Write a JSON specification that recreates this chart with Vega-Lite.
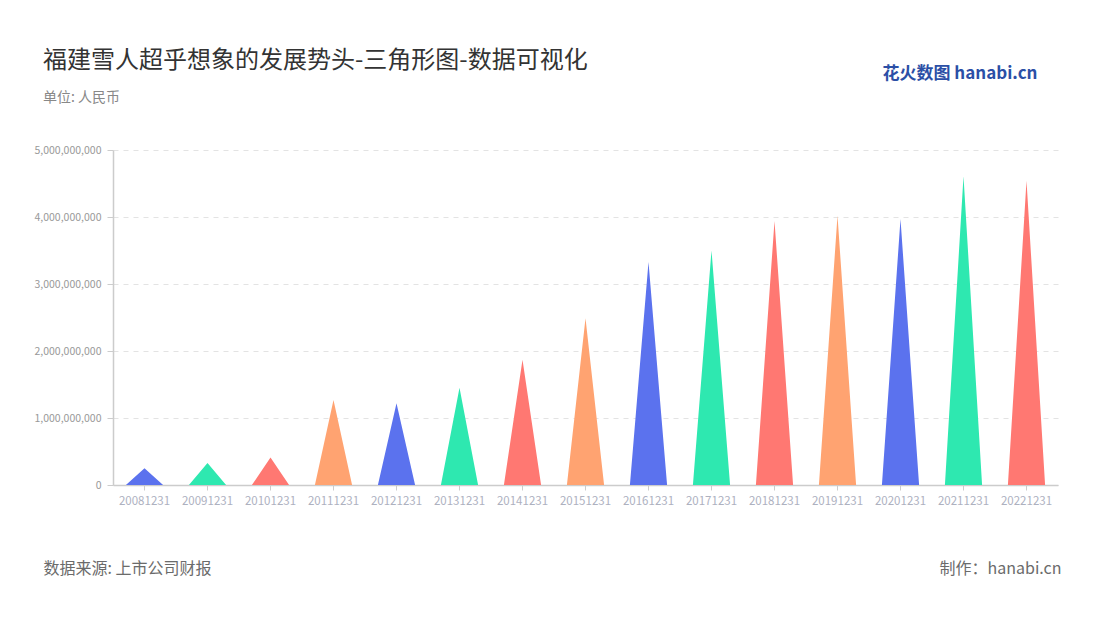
{
  "$schema": "https://vega.github.io/schema/vega-lite/v6.json",
  "width": 945,
  "height": 335,
  "autosize": {"type": "none"},
  "padding": {"left": 113, "top": 150, "right": 42, "bottom": 135},
  "background": "#ffffff",
  "config": {
    "font": "Noto Sans CJK SC",
    "view": {"stroke": null}
  },
  "title": {
    "text": "福建雪人超乎想象的发展势头-三角形图-数据可视化",
    "subtitle": "单位: 人民币",
    "anchor": "start",
    "frame": "group",
    "dx": -70,
    "offset": -41,
    "font": "Noto Sans CJK SC",
    "fontSize": 24,
    "fontWeight": "normal",
    "color": "#333333",
    "subtitleFont": "Noto Sans CJK SC",
    "subtitleFontSize": 14,
    "subtitleColor": "#888888",
    "subtitlePadding": 18
  },
  "data": {
    "values": [
      {"date": "20081231", "value": 250000000},
      {"date": "20091231", "value": 330000000},
      {"date": "20101231", "value": 410000000},
      {"date": "20111231", "value": 1270000000},
      {"date": "20121231", "value": 1220000000},
      {"date": "20131231", "value": 1450000000},
      {"date": "20141231", "value": 1870000000},
      {"date": "20151231", "value": 2490000000},
      {"date": "20161231", "value": 3330000000},
      {"date": "20171231", "value": 3500000000},
      {"date": "20181231", "value": 3940000000},
      {"date": "20191231", "value": 4020000000},
      {"date": "20201231", "value": 3970000000},
      {"date": "20211231", "value": 4610000000},
      {"date": "20221231", "value": 4540000000}
    ]
  },
  "layer": [
    {
      "mark": {"type": "point", "opacity": 0},
      "encoding": {
        "x": {
          "field": "date",
          "type": "nominal",
          "scale": {"type": "band", "paddingInner": 0, "paddingOuter": 0},
          "axis": {
            "orient": "bottom",
            "labelAngle": 0,
            "labelColor": "#aeb1bf",
            "labelFontSize": 11.5,
            "labelPadding": 5,
            "tickColor": "#cccccc",
            "tickSize": 5,
            "domainColor": "#cccccc",
            "domainWidth": 1.5,
            "grid": false,
            "title": "数据来源: 上市公司财报",
            "titleX": -70,
            "titleY": 88,
            "titleAlign": "left",
            "titleAnchor": null,
            "titleBaseline": "alphabetic",
            "titleFontSize": 16,
            "titleFontWeight": "normal",
            "titleColor": "#6b6b6b"
          }
        },
        "y": {
          "field": "value",
          "type": "quantitative",
          "scale": {"domain": [0, 5000000000]},
          "axis": {
            "orient": "left",
            "values": [0, 1000000000, 2000000000, 3000000000, 4000000000, 5000000000],
            "format": ",d",
            "labelColor": "#999999",
            "labelFontSize": 10.5,
            "labelPadding": 6,
            "tickColor": "#cccccc",
            "tickSize": 6,
            "domainColor": "#cccccc",
            "domainWidth": 1.5,
            "grid": true,
            "gridColor": "#e3e3e3",
            "gridDash": [5, 5],
            "gridWidth": 1,
            "title": null
          }
        }
      }
    },
    {
      "transform": [
        {"window": [{"op": "row_number", "as": "idx"}]},
        {"calculate": "[-1, 0, 1]", "as": "pt"},
        {"calculate": "[0, datum.value, 0]", "as": "h"},
        {"flatten": ["pt", "h"]},
        {"calculate": "datum.idx + datum.pt * 0.295", "as": "xpos"}
      ],
      "mark": {"type": "area", "interpolate": "linear", "line": false, "opacity": 1},
      "encoding": {
        "x": {
          "field": "xpos",
          "type": "quantitative",
          "scale": {"domain": [0.5, 15.5], "nice": false, "zero": false},
          "axis": {
            "orient": "top",
            "labels": false,
            "ticks": false,
            "domain": false,
            "grid": false,
            "title": "花火数图 hanabi.cn",
            "titleX": 924,
            "titleY": -72,
            "titleAlign": "right",
            "titleAnchor": null,
            "titleBaseline": "alphabetic",
            "titleFontSize": 17,
            "titleFontWeight": "bold",
            "titleColor": "#2b4fa6"
          }
        },
        "y": {
          "field": "h",
          "type": "quantitative",
          "axis": {
            "orient": "right",
            "labels": false,
            "ticks": false,
            "domain": false,
            "grid": false,
            "title": "制作：hanabi.cn",
            "titleAngle": 0,
            "titleX": 3,
            "titleY": 423,
            "titleAlign": "right",
            "titleAnchor": null,
            "titleBaseline": "alphabetic",
            "titleFontSize": 16,
            "titleFontWeight": "normal",
            "titleColor": "#6b6b6b"
          }
        },
        "color": {
          "field": "date",
          "type": "nominal",
          "scale": {"range": ["#5b72ee", "#2ee8b0", "#ff7872", "#ffa371"]},
          "legend": null
        },
        "order": {"field": "pt", "type": "quantitative"}
      }
    }
  ],
  "resolve": {
    "scale": {"x": "independent"},
    "axis": {"x": "independent", "y": "independent"}
  }
}
